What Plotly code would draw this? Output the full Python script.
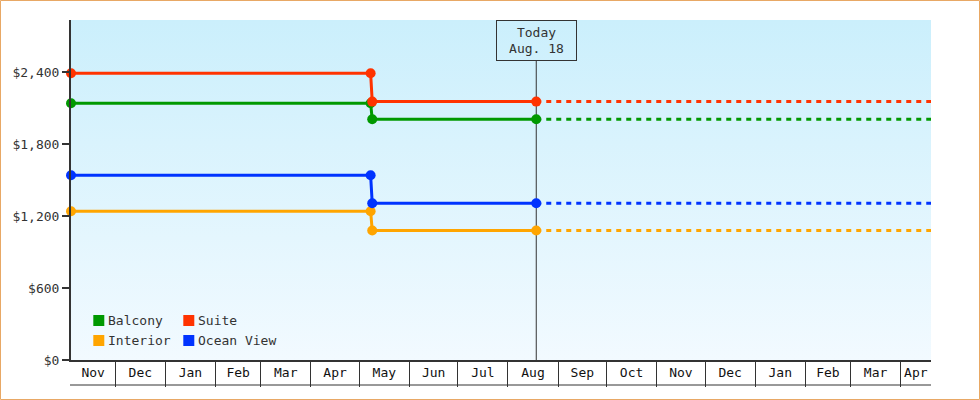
import pandas as pd
import plotly.graph_objects as go

# ---------------- data ----------------
series_names = ["Balcony", "Interior", "Ocean View", "Suite"]
series_colors = ["#009900", "#ffa500", "#0033ff", "#ff3300"]
price_dates = ["2017-11-03 14:00", "2018-05-08", "2018-05-09", "2018-08-18 12:00"]
balcony = [2139, 2139, 2006, 2006]
interior = [1239, 1239, 1079, 1079]
ocean_view = [1539, 1539, 1306, 1306]
suite = [2389, 2389, 2153, 2153]
series_values = [balcony, interior, ocean_view, suite]

today = "2018-08-18 12:00"
today_label = "Today<br>Aug. 18"
x_start = "2017-11-03 14:00"
x_end = "2019-04-19 19:00"
y_max = 2833
y_ticks = [0, 600, 1200, 1800, 2400]
y_tick_labels = ["$0", "$600", "$1,200", "$1,800", "$2,400"]
month_starts = ["2017-12-01", "2018-01-01", "2018-02-01", "2018-03-01", "2018-04-01",
                "2018-05-01", "2018-06-01", "2018-07-01", "2018-08-01", "2018-09-01",
                "2018-10-01", "2018-11-01", "2018-12-01", "2019-01-01", "2019-02-01",
                "2019-03-01", "2019-04-01"]
month_labels = ["Nov", "Dec", "Jan", "Feb", "Mar", "Apr", "May", "Jun", "Jul", "Aug",
                "Sep", "Oct", "Nov", "Dec", "Jan", "Feb", "Mar", "Apr"]

# ---------------- layout constants ----------------
W, H = 980, 400
ML, MR, MT, MB = 71, 49, 20, 40
PW, PH = W - ML - MR, H - MT - MB
FONT = "DejaVu Sans Mono"
INK = "#333333"

def px_x(p):
    return (p - ML) / PW

def px_y(p):
    return (H - MB - p) / PH

# label centers of visible month segments
bounds = [pd.Timestamp(x_start)] + [pd.Timestamp(m) for m in month_starts] + [pd.Timestamp(x_end)]
label_pos = [bounds[i] + (bounds[i + 1] - bounds[i]) / 2 for i in range(len(bounds) - 1)]

fig = go.Figure()

# gradient background
fig.add_trace(go.Scatter(
    x=[x_start, x_end, x_end, x_start, x_start], y=[0, 0, y_max, y_max, 0],
    mode="lines", line=dict(width=0), fill="toself",
    fillgradient=dict(type="vertical", colorscale=[[0, "#f2faff"], [1, "#cbeffc"]]),
    hoverinfo="skip", showlegend=False))

# today line (from box bottom to axis)
box_h = 40
fig.add_trace(go.Scatter(
    x=[today, today], y=[0, y_max * (1 - box_h / PH)], mode="lines",
    line=dict(color=INK, width=1), hoverinfo="skip", showlegend=False))

for name, color, vals in zip(series_names, series_colors, series_values):
    fig.add_trace(go.Scatter(
        x=price_dates, y=vals, mode="lines+markers", name=name,
        line=dict(color=color, width=3), marker=dict(color=color, size=10),
        cliponaxis=False, showlegend=False))
    fig.add_trace(go.Scatter(
        x=[price_dates[-1], x_end], y=[vals[-1], vals[-1]], mode="lines", name=name,
        line=dict(color=color, width=3, dash="5px,5px"), showlegend=False,
        hoverinfo="skip"))

shapes = []
annotations = []

# x axis bottom line
shapes.append(dict(type="line", xref="paper", yref="paper", x0=px_x(70), x1=1,
                   y0=px_y(385), y1=px_y(385), line=dict(color=INK, width=1)))
# outer border
shapes.append(dict(type="rect", xref="paper", yref="paper",
                   x0=px_x(0.5), x1=px_x(W - 0.5), y0=px_y(H - 0.5), y1=px_y(0.5),
                   line=dict(color="#e8a865", width=1)))

# today box
annotations.append(dict(x=today, xref="x", y=1, yref="paper", yanchor="top",
                        text=today_label, showarrow=False, width=79, height=box_h - 1,
                        borderpad=0, bordercolor=INK, borderwidth=1,
                        font=dict(family=FONT, size=13, color=INK)))

# legend (2 x 2 grid)
legend_order = ["Balcony", "Suite", "Interior", "Ocean View"]
col_x = [93.3, 183.3]
row_y = [320.5, 340.5]
for i, nm in enumerate(legend_order):
    c = series_colors[series_names.index(nm)]
    cx, cy = col_x[i % 2], row_y[i // 2]
    shapes.append(dict(type="rect", xref="paper", yref="paper",
                       x0=px_x(cx), x1=px_x(cx + 11), y0=px_y(cy + 5.5), y1=px_y(cy - 5.5),
                       fillcolor=c, line=dict(width=0)))
    annotations.append(dict(x=px_x(cx + 13), y=px_y(cy), xref="paper", yref="paper",
                            xanchor="left", yanchor="middle", text=nm, showarrow=False,
                            font=dict(family=FONT, size=13, color=INK)))

fig.update_layout(
    width=W, height=H,
    margin=dict(l=ML, r=MR, t=MT, b=MB),
    paper_bgcolor="white", plot_bgcolor="rgba(0,0,0,0)",
    font=dict(family=FONT, size=13, color=INK),
    showlegend=False, hovermode=False,
    shapes=shapes, annotations=annotations,
    xaxis=dict(type="date", range=[x_start, x_end], showgrid=False, zeroline=False,
               showline=True, linecolor=INK, linewidth=1.5,
               tickmode="array", tickvals=label_pos, ticktext=month_labels, ticks="",
               tickfont=dict(family=FONT, size=13, color="#111"),
               minor=dict(tickmode="array", tickvals=month_starts, ticks="outside",
                          ticklen=25, tickwidth=1, tickcolor=INK, showgrid=False)),
    yaxis=dict(range=[0, y_max], showgrid=False, zeroline=False,
               showline=True, linecolor=INK, linewidth=2,
               tickmode="array", tickvals=y_ticks, ticktext=y_tick_labels,
               ticks="outside", ticklen=7, tickwidth=2, tickcolor=INK,
               tickfont=dict(family=FONT, size=13, color=INK)),
)

fig.write_html("out.html", config={"displayModeBar": False},
               post_script="document.body.style.margin='0';")
